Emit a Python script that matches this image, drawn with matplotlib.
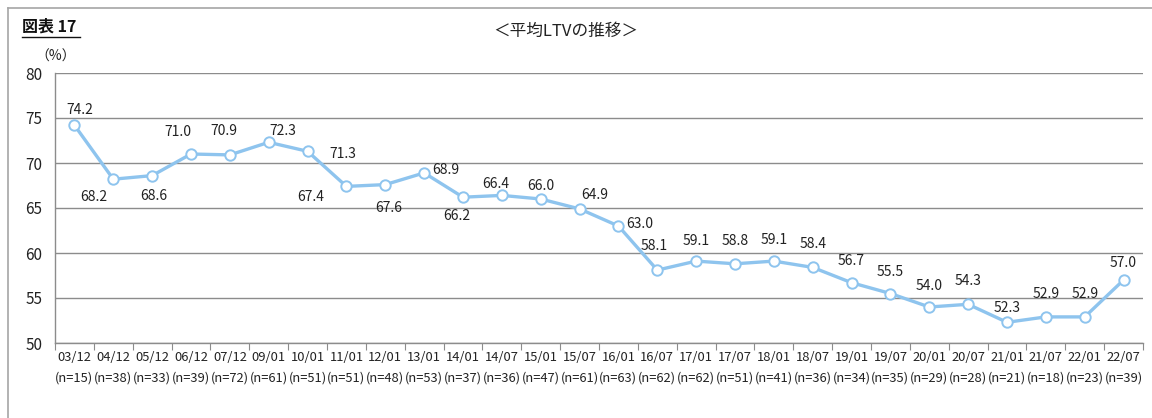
import matplotlib
matplotlib.use('Agg')
import matplotlib.pyplot as plt
from matplotlib.lines import Line2D

plt.rcParams['font.family'] = ['Noto Sans CJK JP', 'DejaVu Sans']

# data
periods = ['03/12', '04/12', '05/12', '06/12', '07/12', '09/01', '10/01', '11/01', '12/01', '13/01',
           '14/01', '14/07', '15/01', '15/07', '16/01', '16/07', '17/01', '17/07', '18/01', '18/07',
           '19/01', '19/07', '20/01', '20/07', '21/01', '21/07', '22/01', '22/07']
counts = [15, 38, 33, 39, 72, 61, 51, 51, 48, 53, 37, 36, 47, 61, 63, 62, 62, 51, 41, 36,
          34, 35, 29, 28, 21, 18, 23, 39]
ltv = [74.2, 68.2, 68.6, 71.0, 70.9, 72.3, 71.3, 67.4, 67.6, 68.9, 66.2, 66.4, 66.0, 64.9,
       63.0, 58.1, 59.1, 58.8, 59.1, 58.4, 56.7, 55.5, 54.0, 54.3, 52.3, 52.9, 52.9, 57.0]

# where each value label sits relative to its point (pixels)
label_offsets = [(5, 15), (-19, -18), (2, -20), (-13, 22), (-6, 24), (14, 11), (35, -3),
                 (-36, -11), (3, -23), (22, 3), (-6, -19), (-6, 11), (0, 13), (15, 14),
                 (21, 2), (-3, 24), (0, 20), (0, 23), (0, 21), (0, 23), (0, 22), (0, 22),
                 (0, 21), (0, 23), (0, 14), (0, 23), (0, 23), (0, 17)]

W, H = 1152, 418
fig = plt.figure(figsize=(W / 100, H / 100), dpi=100)
ax = fig.add_axes([55 / W, (H - 343) / H, (1143 - 55) / W, (343 - 73) / H])

grey = '#8c8c8c'
blue = '#8ec4ee'

x = list(range(len(periods)))
ax.plot(x, ltv, color=blue, lw=2.4, marker='o', markersize=7.5,
        markerfacecolor='white', markeredgecolor=blue, markeredgewidth=1.4, zorder=3)

for xi, v, (dx, dy) in zip(x, ltv, label_offsets):
    ax.annotate(f'{v:.1f}', (xi, v), xytext=(dx, dy), textcoords='offset pixels',
                ha='center', va='center', fontsize=10, color='#222222', zorder=4)

ax.set_xlim(-0.5, len(periods) - 0.5)
ax.set_ylim(50, 80)
ax.set_yticks(range(50, 81, 5))
ax.yaxis.grid(True, color=grey, lw=1.0)
ax.set_axisbelow(True)
ax.tick_params(axis='y', length=0, pad=9, labelsize=11, labelcolor='#222222')

ax.set_xticks([i + 0.5 for i in range(-1, len(periods))], minor=False)
ax.set_xticklabels([])
ax.tick_params(axis='x', which='major', length=5, color=grey, direction='out')
ax.set_xticks(x, minor=True)
ax.set_xticklabels([f'{p}\n(n={n})' for p, n in zip(periods, counts)], minor=True)
ax.tick_params(axis='x', which='minor', length=0, pad=6, labelsize=9.3, labelcolor='#222222')
for lab in ax.get_xticklabels(minor=True):
    lab.set_linespacing(1.75)

for side in ['top', 'right']:
    ax.spines[side].set_visible(False)
for side in ['left', 'bottom']:
    ax.spines[side].set_color(grey)
    ax.spines[side].set_linewidth(1.0)

# outer frame (top and left edges visible in the reference)
fig.add_artist(Line2D([8 / W, 1], [1 - 8 / H, 1 - 8 / H], color='#a6a6a6', lw=1.2))
fig.add_artist(Line2D([8 / W, 8 / W], [0, 1 - 8 / H], color='#a6a6a6', lw=1.2))

fig.text(566 / W, 1 - 31 / H, '＜平均LTVの推移＞', ha='center', va='center', fontsize=12, color='#222222')
fig.text(22 / W, 1 - 27 / H, '図表 17', ha='left', va='center', fontsize=11.5, fontweight='bold', color='#111111')
fig.add_artist(Line2D([22 / W, 80 / W], [1 - 37 / H, 1 - 37 / H], color='#111111', lw=1.0))
fig.text(56 / W, 1 - 57 / H, '（%）', ha='center', va='center', fontsize=10, color='#222222')

fig.savefig('out.png', dpi=100, facecolor='white')
